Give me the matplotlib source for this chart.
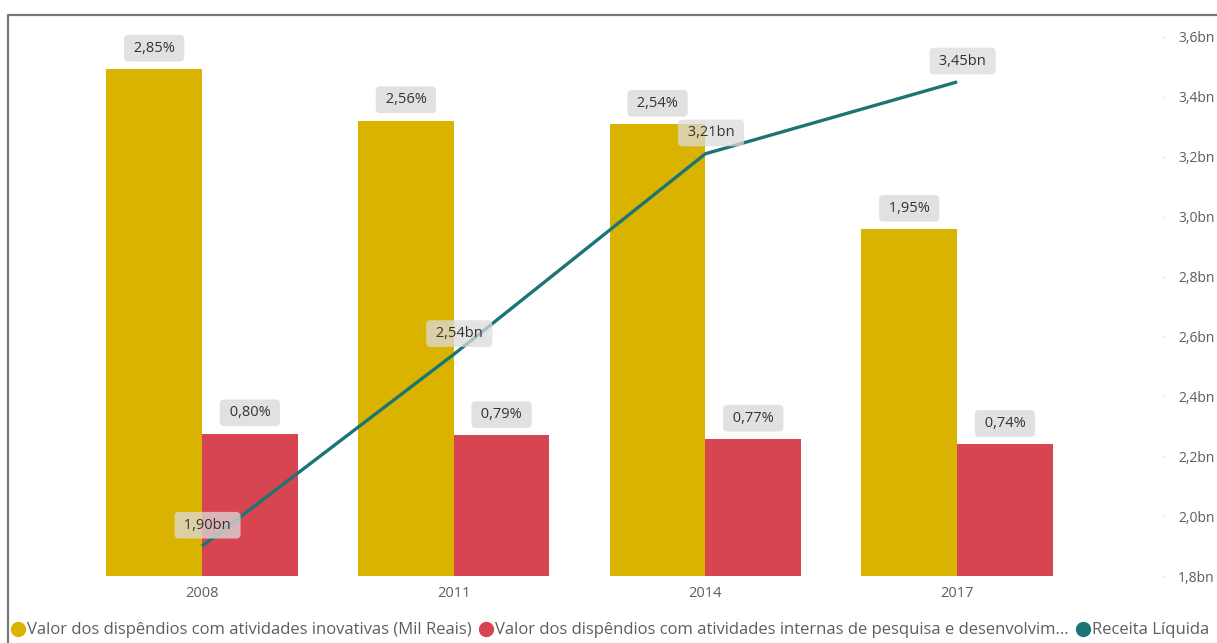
import matplotlib.pyplot as plt
from matplotlib.lines import Line2D
import numpy as np

plt.rcParams['font.family'] = ['Open Sans', 'DejaVu Sans']

anos = ['2008', '2011', '2014', '2017']
inovativas = [2.85, 2.56, 2.54, 1.95]      # % (rótulo das barras amarelas)
pesquisa = [0.80, 0.79, 0.77, 0.74]        # % (rótulo das barras vermelhas)
receita = [1.90, 2.54, 3.21, 3.45]         # bilhões
receita_ticks = [1.8, 2.0, 2.2, 2.4, 2.6, 2.8, 3.0, 3.2, 3.4, 3.6]

amarelo = '#D9B300'
vermelho = '#D64550'
verde = '#1C7575'
cinza_txt = '#605E5C'


def br(v, casas):
    return f'{v:.{casas}f}'.replace('.', ',')


W, H = 1217, 643
passo = 251.7  # px entre grupos
fig = plt.figure(figsize=(W / 100, H / 100), dpi=100)
ax = fig.add_axes([80 / W, 1 - 576 / H, (1163 - 80) / W, (576 - 37) / H])
ax2 = ax.twinx()

x = np.arange(len(anos))
w = 0.38
ax.bar(x - w / 2, inovativas, w, color=amarelo)
ax.bar(x + w / 2, pesquisa, w, color=vermelho)
x0 = -(202 - 80) / passo
ax.set_xlim(x0, x0 + (1163 - 80) / passo)
ax.set_ylim(0, 2.85 * 539 / 507)
ax.set_yticks([])
ax.set_xticks(x)
ax.set_xticklabels(anos, color=cinza_txt, fontsize=10.5)
ax.tick_params(axis='x', length=0, pad=7)
for s in ax.spines.values():
    s.set_visible(False)

caixa = dict(boxstyle='round,pad=0.4,rounding_size=0.3', fc='#E1E1E1', ec='none')
for xi, v in zip(x - w / 2, inovativas):
    ax.annotate(' ' + br(v, 2) + '% ', (xi, v), xytext=(0, 15), textcoords='offset points',
                ha='center', va='center', fontsize=10.5, color='#333333', bbox=caixa)
for xi, v in zip(x + w / 2, pesquisa):
    ax.annotate(' ' + br(v, 2) + '% ', (xi, v), xytext=(0, 15), textcoords='offset points',
                ha='center', va='center', fontsize=10.5, color='#333333', bbox=caixa)

ax2.plot(x, receita, color=verde, lw=2.4, solid_capstyle='butt')
ax2.set_ylim(1.8, 3.6)
ax2.set_yticks(receita_ticks)
ax2.set_yticklabels([br(t, 1) + 'bn' for t in receita_ticks], color=cinza_txt, fontsize=10)
ax2.tick_params(axis='y', length=1, width=1, color='#D0D0D0', pad=10)
for s in ax2.spines.values():
    s.set_visible(False)

caixa2 = dict(boxstyle='round,pad=0.4,rounding_size=0.3', fc=(0.86, 0.86, 0.86, 0.75), ec='none')
for xi, v in zip(x, receita):
    ax2.annotate(' ' + br(v, 2) + 'bn ', (xi, v), xytext=(4, 15), textcoords='offset points',
                 ha='center', va='center', fontsize=10.5, color='#333333', bbox=caixa2)

# moldura do visual
fig.add_artist(Line2D([8 / W, 8 / W, 1], [0, 1 - 15 / H, 1 - 15 / H],
                      transform=fig.transFigure, color='#777777', lw=1.6))

itens = [
    (amarelo, 'Valor dos dispêndios com atividades inovativas (Mil Reais)'),
    (vermelho, 'Valor dos dispêndios com atividades internas de pesquisa e desenvolvim...'),
    (verde, 'Receita Líquida'),
]
handles = [Line2D([], [], ls='none', marker='o', ms=10, color=c) for c, _ in itens]
fig.legend(handles, [t for _, t in itens], loc='lower left', bbox_to_anchor=(2 / W, -7 / H),
           ncol=3, frameon=False, fontsize=12, handlelength=0.5, handletextpad=0.3,
           columnspacing=0.6, labelcolor=cinza_txt, borderaxespad=0.3)

fig.savefig('out.png', dpi=100)
